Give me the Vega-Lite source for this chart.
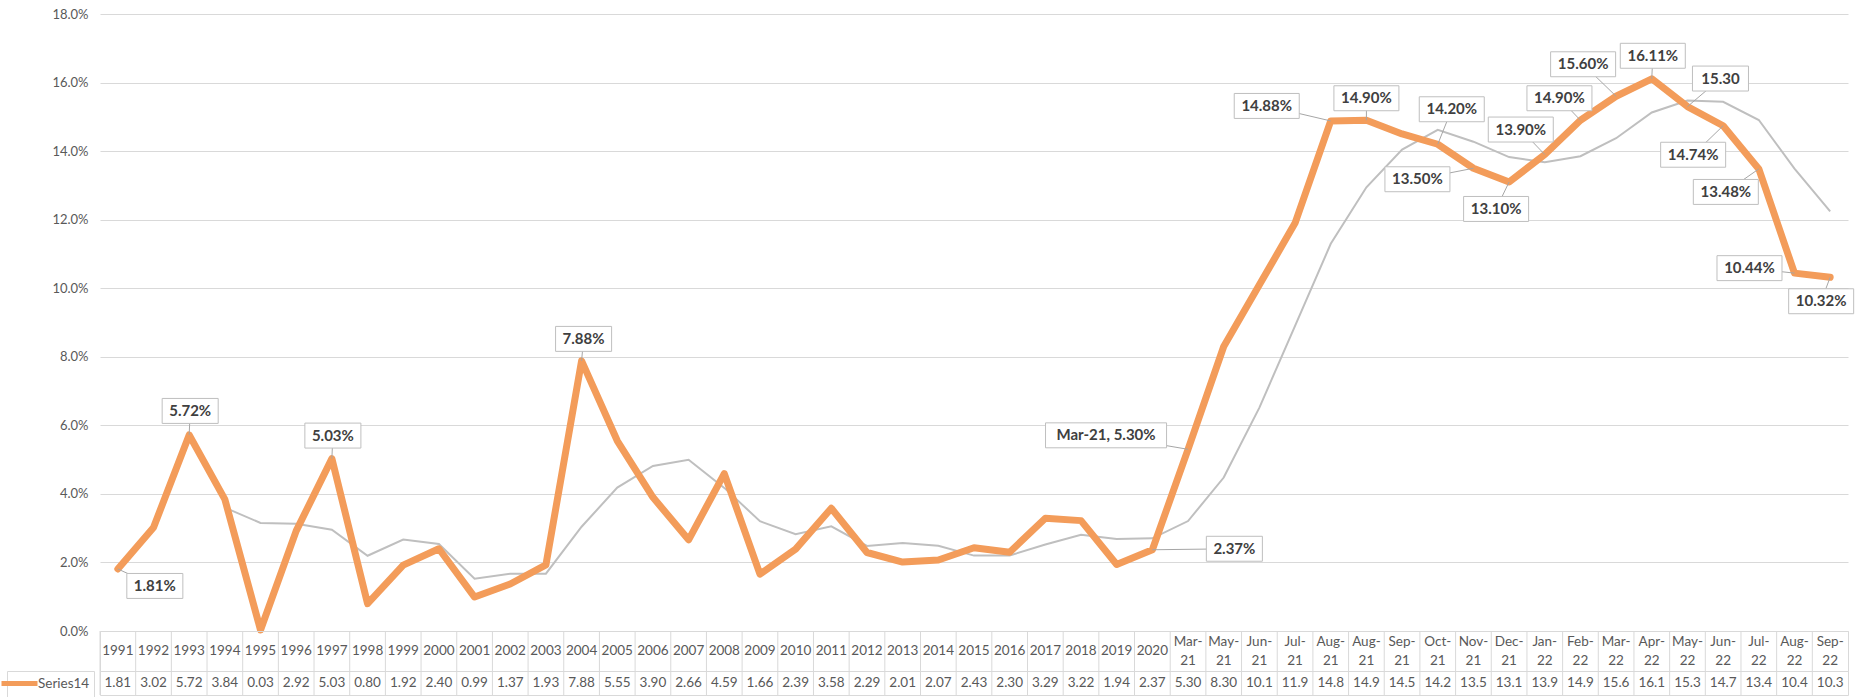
{
  "$schema": "https://vega.github.io/schema/vega-lite/v6.json",
  "background": "white",
  "padding": {"left": 0, "top": 8, "right": 0, "bottom": 0},
  "spacing": 0,
  "bounds": "flush",
  "config": {
    "font": "Lato",
    "view": {"stroke": "#D9D9D9", "strokeWidth": 1}
  },
  "resolve": {"scale": {"x": "independent"}},
  "datasets": {
    "d": [
      {"k": "1991", "c1": "1991", "c2": "", "v": 1.81, "t": "1.81", "ma": null},
      {"k": "1992", "c1": "1992", "c2": "", "v": 3.02, "t": "3.02", "ma": null},
      {"k": "1993", "c1": "1993", "c2": "", "v": 5.72, "t": "5.72", "ma": null},
      {"k": "1994", "c1": "1994", "c2": "", "v": 3.84, "t": "3.84", "ma": 3.5975},
      {"k": "1995", "c1": "1995", "c2": "", "v": 0.03, "t": "0.03", "ma": 3.1525},
      {"k": "1996", "c1": "1996", "c2": "", "v": 2.92, "t": "2.92", "ma": 3.1275},
      {"k": "1997", "c1": "1997", "c2": "", "v": 5.03, "t": "5.03", "ma": 2.955},
      {"k": "1998", "c1": "1998", "c2": "", "v": 0.80, "t": "0.80", "ma": 2.195},
      {"k": "1999", "c1": "1999", "c2": "", "v": 1.92, "t": "1.92", "ma": 2.6675},
      {"k": "2000", "c1": "2000", "c2": "", "v": 2.40, "t": "2.40", "ma": 2.5375},
      {"k": "2001", "c1": "2001", "c2": "", "v": 0.99, "t": "0.99", "ma": 1.5275},
      {"k": "2002", "c1": "2002", "c2": "", "v": 1.37, "t": "1.37", "ma": 1.67},
      {"k": "2003", "c1": "2003", "c2": "", "v": 1.93, "t": "1.93", "ma": 1.6725},
      {"k": "2004", "c1": "2004", "c2": "", "v": 7.88, "t": "7.88", "ma": 3.0425},
      {"k": "2005", "c1": "2005", "c2": "", "v": 5.55, "t": "5.55", "ma": 4.1825},
      {"k": "2006", "c1": "2006", "c2": "", "v": 3.90, "t": "3.90", "ma": 4.815},
      {"k": "2007", "c1": "2007", "c2": "", "v": 2.66, "t": "2.66", "ma": 4.9975},
      {"k": "2008", "c1": "2008", "c2": "", "v": 4.59, "t": "4.59", "ma": 4.175},
      {"k": "2009", "c1": "2009", "c2": "", "v": 1.66, "t": "1.66", "ma": 3.2025},
      {"k": "2010", "c1": "2010", "c2": "", "v": 2.39, "t": "2.39", "ma": 2.825},
      {"k": "2011", "c1": "2011", "c2": "", "v": 3.58, "t": "3.58", "ma": 3.055},
      {"k": "2012", "c1": "2012", "c2": "", "v": 2.29, "t": "2.29", "ma": 2.48},
      {"k": "2013", "c1": "2013", "c2": "", "v": 2.01, "t": "2.01", "ma": 2.5675},
      {"k": "2014", "c1": "2014", "c2": "", "v": 2.07, "t": "2.07", "ma": 2.4875},
      {"k": "2015", "c1": "2015", "c2": "", "v": 2.43, "t": "2.43", "ma": 2.20},
      {"k": "2016", "c1": "2016", "c2": "", "v": 2.30, "t": "2.30", "ma": 2.2025},
      {"k": "2017", "c1": "2017", "c2": "", "v": 3.29, "t": "3.29", "ma": 2.5225},
      {"k": "2018", "c1": "2018", "c2": "", "v": 3.22, "t": "3.22", "ma": 2.81},
      {"k": "2019", "c1": "2019", "c2": "", "v": 1.94, "t": "1.94", "ma": 2.6875},
      {"k": "2020", "c1": "2020", "c2": "", "v": 2.37, "t": "2.37", "ma": 2.705},
      {"k": "Mar-21", "c1": "Mar-", "c2": "21", "v": 5.30, "t": "5.30", "ma": 3.2075},
      {"k": "May-21", "c1": "May-", "c2": "21", "v": 8.30, "t": "8.30", "ma": 4.4775},
      {"k": "Jun-21", "c1": "Jun-", "c2": "21", "v": 10.1, "t": "10.1", "ma": 6.5175},
      {"k": "Jul-21", "c1": "Jul-", "c2": "21", "v": 11.9, "t": "11.9", "ma": 8.9},
      {"k": "Aug-21", "c1": "Aug-", "c2": "21", "v": 14.88, "t": "14.8", "ma": 11.295},
      {"k": "Aug-21b", "c1": "Aug-", "c2": "21", "v": 14.90, "t": "14.9", "ma": 12.945},
      {"k": "Sep-21", "c1": "Sep-", "c2": "21", "v": 14.5, "t": "14.5", "ma": 14.045},
      {"k": "Oct-21", "c1": "Oct-", "c2": "21", "v": 14.20, "t": "14.2", "ma": 14.62},
      {"k": "Nov-21", "c1": "Nov-", "c2": "21", "v": 13.50, "t": "13.5", "ma": 14.275},
      {"k": "Dec-21", "c1": "Dec-", "c2": "21", "v": 13.10, "t": "13.1", "ma": 13.825},
      {"k": "Jan-22", "c1": "Jan-", "c2": "22", "v": 13.90, "t": "13.9", "ma": 13.675},
      {"k": "Feb-22", "c1": "Feb-", "c2": "22", "v": 14.90, "t": "14.9", "ma": 13.85},
      {"k": "Mar-22", "c1": "Mar-", "c2": "22", "v": 15.60, "t": "15.6", "ma": 14.375},
      {"k": "Apr-22", "c1": "Apr-", "c2": "22", "v": 16.11, "t": "16.1", "ma": 15.1275},
      {"k": "May-22", "c1": "May-", "c2": "22", "v": 15.30, "t": "15.3", "ma": 15.4775},
      {"k": "Jun-22", "c1": "Jun-", "c2": "22", "v": 14.74, "t": "14.7", "ma": 15.4375},
      {"k": "Jul-22", "c1": "Jul-", "c2": "22", "v": 13.48, "t": "13.4", "ma": 14.9075},
      {"k": "Aug-22", "c1": "Aug-", "c2": "22", "v": 10.44, "t": "10.4", "ma": 13.49},
      {"k": "Sep-22", "c1": "Sep-", "c2": "22", "v": 10.32, "t": "10.3", "ma": 12.245}
    ]
  },
  "vconcat": [
    {
      "width": 1748,
      "height": 617,
      "view": {"stroke": null},
      "data": {"name": "d"},
      "encoding": {
        "x": {"field": "k", "type": "nominal", "sort": null, "scale": {"type": "point", "padding": 0.5}, "axis": null}
      },
      "layer": [
        {
          "mark": {"type": "line", "color": "#BFBFBF", "strokeWidth": 2},
          "encoding": {
            "y": {
              "field": "ma", "type": "quantitative",
              "scale": {"domain": [0, 18], "nice": false},
              "axis": {
                "values": [0, 2, 4, 6, 8, 10, 12, 14, 16, 18],
                "labelExpr": "format(datum.value, '.1f') + '%'",
                "grid": true, "gridColor": "#D9D9D9", "gridWidth": 1.2,
                "domain": false, "ticks": false, "labelPadding": 12,
                "labelFontSize": 13, "labelColor": "#595959", "labelFont": "Lato",
                "labelFlush": false, "title": null, "minExtent": 100, "maxExtent": 100
              }
            }
          }
        },
        {
          "mark": {"type": "line", "color": "#F39C5A", "strokeWidth": 7, "strokeJoin": "round", "strokeCap": "round"},
          "encoding": {"y": {"field": "v", "type": "quantitative"}}
        },
        {
          "transform": [{"filter": {"field": "k", "oneOf": ["1991", "1993", "1997", "2004", "2020", "Mar-21", "Aug-21", "Aug-21b", "Oct-21", "Nov-21", "Dec-21", "Jan-22", "Feb-22", "Mar-22", "Apr-22", "May-22", "Jun-22", "Jul-22", "Aug-22", "Sep-22"]}}],
          "layer": [
            {
              "mark": {
                "type": "rule", "color": "#A6A6A6", "strokeWidth": 1,
                "x2Offset": {"expr": "[37,1,1,2,82,-82,-64,0,14,-56,-13,-24,-21,-33,1,33,-30,-33,-45,-9][indexof(['1991','1993','1997','2004','2020','Mar-21','Aug-21','Aug-21b','Oct-21','Nov-21','Dec-21','Jan-22','Feb-22','Mar-22','Apr-22','May-22','Jun-22','Jul-22','Aug-22','Sep-22'], datum.k)]"},
                "y2Offset": {"expr": "[17,-24,-23,-22,-1,-14,-15,-22,-35,11,27,-25,-22,-32,-23,-28,29,23,-5,24][indexof(['1991','1993','1997','2004','2020','Mar-21','Aug-21','Aug-21b','Oct-21','Nov-21','Dec-21','Jan-22','Feb-22','Mar-22','Apr-22','May-22','Jun-22','Jul-22','Aug-22','Sep-22'], datum.k)]"}
              },
              "encoding": {
                "y": {"field": "v", "type": "quantitative"},
                "x2": {"field": "k"},
                "y2": {"field": "v"}
              }
            },
            {
              "mark": {
                "type": "point", "filled": true, "fill": "white", "stroke": "#BFBFBF", "strokeWidth": 1,
                "opacity": 1, "fillOpacity": 1, "size": 16900,
                "shape": {"expr": "datum.k === 'Mar-21' ? 'M-0.931,-0.192L0.931,-0.192L0.931,0.192L-0.931,0.192Z' : ((datum.v < 10 || datum.k === 'May-22') ? 'M-0.431,-0.192L0.431,-0.192L0.431,0.192L-0.431,0.192Z' : 'M-0.5,-0.192L0.5,-0.192L0.5,0.192L-0.5,0.192Z')"},
                "xOffset": {"expr": "[37,1,1,2,82,-82,-64,0,14,-56,-13,-24,-21,-33,1,33,-30,-33,-45,-9][indexof(['1991','1993','1997','2004','2020','Mar-21','Aug-21','Aug-21b','Oct-21','Nov-21','Dec-21','Jan-22','Feb-22','Mar-22','Apr-22','May-22','Jun-22','Jul-22','Aug-22','Sep-22'], datum.k)]"},
                "yOffset": {"expr": "[17,-24,-23,-22,-1,-14,-15,-22,-35,11,27,-25,-22,-32,-23,-28,29,23,-5,24][indexof(['1991','1993','1997','2004','2020','Mar-21','Aug-21','Aug-21b','Oct-21','Nov-21','Dec-21','Jan-22','Feb-22','Mar-22','Apr-22','May-22','Jun-22','Jul-22','Aug-22','Sep-22'], datum.k)]"}
              },
              "encoding": {"y": {"field": "v", "type": "quantitative"}}
            },
            {
              "mark": {
                "type": "text", "font": "Lato", "fontWeight": "bold", "fontSize": 15, "color": "#404040",
                "align": "center", "baseline": "middle",
                "text": {"expr": "datum.k === 'Mar-21' ? 'Mar-21, ' + format(datum.v, '.2f') + '%' : (datum.k === 'May-22' ? format(datum.v, '.2f') : format(datum.v, '.2f') + '%')"},
                "dx": {"expr": "[37,1,1,2,82,-82,-64,0,14,-56,-13,-24,-21,-33,1,33,-30,-33,-45,-9][indexof(['1991','1993','1997','2004','2020','Mar-21','Aug-21','Aug-21b','Oct-21','Nov-21','Dec-21','Jan-22','Feb-22','Mar-22','Apr-22','May-22','Jun-22','Jul-22','Aug-22','Sep-22'], datum.k)]"},
                "dy": {"expr": "[17,-24,-23,-22,-1,-14,-15,-22,-35,11,27,-25,-22,-32,-23,-28,29,23,-5,24][indexof(['1991','1993','1997','2004','2020','Mar-21','Aug-21','Aug-21b','Oct-21','Nov-21','Dec-21','Jan-22','Feb-22','Mar-22','Apr-22','May-22','Jun-22','Jul-22','Aug-22','Sep-22'], datum.k)]"}
              },
              "encoding": {"y": {"field": "v", "type": "quantitative"}}
            }
          ]
        }
      ]
    },
    {
      "width": 1748,
      "height": 40,
      "data": {"name": "d"},
      "encoding": {
        "x": {
          "field": "k", "type": "nominal", "sort": null,
          "scale": {"type": "band", "paddingInner": 0, "paddingOuter": 0},
          "axis": null
        }
      },
      "layer": [
        {
          "mark": {"type": "rule", "color": "#D9D9D9", "strokeWidth": 1},
          "encoding": {"x": {"field": "k", "type": "nominal", "sort": null, "bandPosition": 0}}
        },
        {
          "mark": {"type": "text", "font": "Lato", "fontSize": 13.5, "color": "#595959", "baseline": "middle", "dy": {"expr": "datum.c2 === '' ? 0 : -9.5"}},
          "encoding": {"text": {"field": "c1"}}
        },
        {
          "mark": {"type": "text", "font": "Lato", "fontSize": 13.5, "color": "#595959", "baseline": "middle", "dy": 9.5},
          "encoding": {"text": {"field": "c2"}}
        }
      ]
    },
    {
      "width": 1748,
      "height": 24,
      "data": {"name": "d"},
      "encoding": {
        "x": {
          "field": "k", "type": "nominal", "sort": null,
          "scale": {"type": "band", "paddingInner": 0, "paddingOuter": 0},
          "axis": null
        }
      },
      "layer": [
        {
          "mark": {"type": "rule", "color": "#D9D9D9", "strokeWidth": 1},
          "encoding": {"x": {"field": "k", "type": "nominal", "sort": null, "bandPosition": 0}}
        },
        {
          "mark": {"type": "text", "font": "Lato", "fontSize": 13.5, "color": "#595959", "baseline": "middle", "strokeWidth": 0},
          "encoding": {
            "text": {"field": "t"},
            "stroke": {
              "datum": "Series14",
              "scale": {"range": ["#F39C5A"]},
              "legend": {
                "orient": "none", "legendX": -93, "legendY": 657, "title": null,
                "symbolType": "M-3,0L3,0", "symbolSize": 144, "symbolStrokeWidth": 5,
                "symbolStrokeColor": "#F39C5A", "symbolFillColor": "transparent",
                "labelFontSize": 13.5, "labelColor": "#595959", "labelFont": "Lato", "labelOffset": 10,
                "strokeColor": "#D9D9D9", "padding": 4, "fillColor": "white"
              }
            }
          }
        }
      ]
    }
  ]
}
